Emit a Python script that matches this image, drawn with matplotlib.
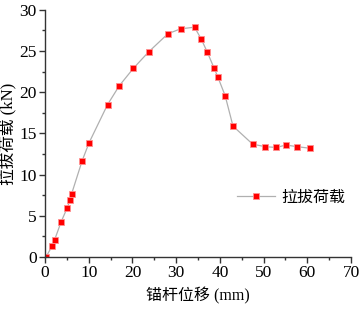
import matplotlib
matplotlib.use("Agg")
import matplotlib.pyplot as plt
from matplotlib.ticker import MultipleLocator

plt.rcParams['font.family'] = ['Liberation Serif', 'Noto Sans CJK SC']

# displacement (mm) and pull-out load (kN)
disp = [0.2, 1.7, 2.2, 3.7, 5.1, 5.7, 6.1, 8.5, 10.1, 14.3, 17.0, 20.2, 23.7,
        28.1, 31.0, 34.2, 35.7, 37.1, 38.7, 39.5, 41.2, 43.0, 47.5, 50.4,
        52.9, 55.1, 57.7, 60.7]
load = [0.0, 1.4, 2.1, 4.3, 6.0, 6.9, 7.7, 11.7, 13.9, 18.5, 20.8, 22.9, 24.9,
        27.1, 27.7, 27.9, 26.5, 24.9, 22.9, 21.9, 19.6, 15.9, 13.7, 13.4,
        13.3, 13.6, 13.4, 13.2]

fig = plt.figure(figsize=(3.63, 3.09), dpi=100)
ax = fig.add_axes([0.124, 0.168, 0.843, 0.8])

ax.plot(disp, load, color='#b0b0b0', lw=0.9, marker='s', markersize=5,
        markerfacecolor='#ff0000', markeredgecolor='#ff9090', markeredgewidth=0.6,
        label='拉拔荷载')

ax.set_xlim(0, 70)
ax.set_ylim(0, 30)
ax.xaxis.set_major_locator(MultipleLocator(10))
ax.xaxis.set_minor_locator(MultipleLocator(5))
ax.yaxis.set_major_locator(MultipleLocator(5))
ax.yaxis.set_minor_locator(MultipleLocator(2.5))

for s in ['top', 'right']:
    ax.spines[s].set_visible(False)
for s in ['left', 'bottom']:
    ax.spines[s].set_color('#333333')
    ax.spines[s].set_linewidth(1.0)

ax.tick_params(which='major', direction='out', length=4, width=1, color='#333333',
               labelsize=12.5, pad=2)
ax.tick_params(which='minor', direction='out', length=2.5, width=1, color='#333333')

ax.set_xlabel('锚杆位移 (mm)', fontsize=11.5, labelpad=4)
ax.set_ylabel('拉拔荷载 (kN)', fontsize=12, labelpad=2)

ax.legend(loc='center left', bbox_to_anchor=(0.58, 0.24), frameon=False,
          fontsize=11.5, handlelength=2.4, handletextpad=0.4)

fig.savefig('out.png', dpi=100)
